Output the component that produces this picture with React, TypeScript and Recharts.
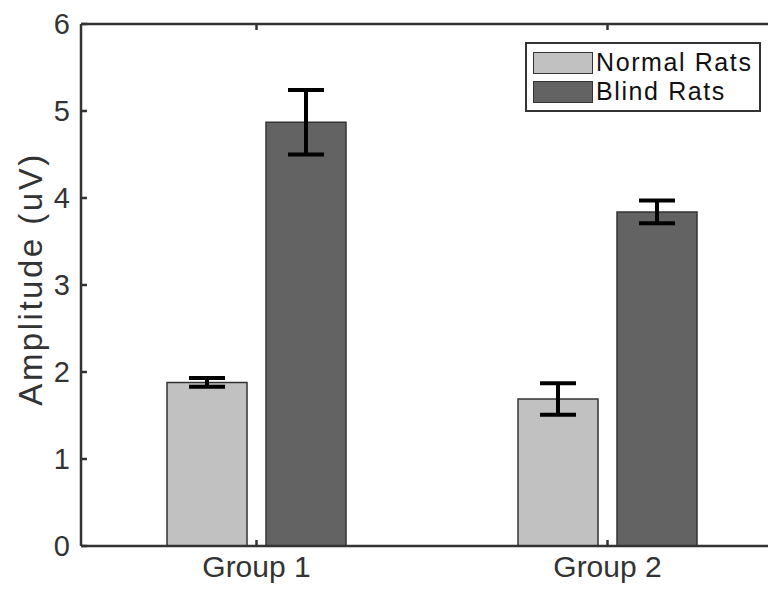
import { BarChart, Bar, XAxis, YAxis, ErrorBar, Legend } from 'recharts';

// categories and values
const groups = ['Group 1', 'Group 2'];
const normalRats = [1.88, 1.69];
const normalErr = [0.05, 0.18];
const blindRats = [4.87, 3.84];
const blindErr = [0.37, 0.13];
const yTicks = [0, 1, 2, 3, 4, 5, 6];
const legendOrder = ['Normal Rats', 'Blind Rats'];

const data = groups.map((g, i) => ({
  group: g,
  normal: normalRats[i],
  normalErr: normalErr[i],
  blind: blindRats[i],
  blindErr: blindErr[i],
}));

const FONT = '"Liberation Sans", Arial, Helvetica, sans-serif';
const AXIS = '#333333';

function LegendBox({ payload }: any) {
  const items = [...(payload || [])].sort(
    (a: any, b: any) => legendOrder.indexOf(a.value) - legendOrder.indexOf(b.value)
  );
  return (
    <div
      style={{
        border: `2.5px solid ${AXIS}`,
        background: '#fff',
        padding: '4px 6px 4px 6px',
        fontFamily: FONT,
        fontSize: 25,
        letterSpacing: 1.6,
        color: '#111',
        lineHeight: '29px',
      }}
    >
      {items.map((p: any) => (
        <div key={p.value} style={{ display: 'flex', alignItems: 'center' }}>
          <span
            style={{
              display: 'inline-block',
              width: 58,
              height: 20,
              background: p.color,
              border: `1.5px solid ${AXIS}`,
              marginRight: 3,
            }}
          />
          <span>{p.value}</span>
        </div>
      ))}
    </div>
  );
}

export default function App() {
  return (
    <div style={{ position: 'absolute', left: 0, top: 0, width: 768, height: 591, overflow: 'hidden', background: '#fff' }}>
      <BarChart
        width={800}
        height={591}
        data={data}
        margin={{ top: 20, right: 17, left: 0, bottom: 0 }}
        barSize={80}
        barGap={19}
      >
        <XAxis
          dataKey="group"
          xAxisId="bottom"
          height={45}
          axisLine={{ stroke: AXIS, strokeWidth: 2.5 }}
          tickLine={{ stroke: AXIS, strokeWidth: 2.5 }}
          tickSize={-6}
          tickMargin={16}
          tick={{ fill: '#333', fontSize: 30, fontFamily: FONT }}
        />
        <XAxis
          dataKey="group"
          xAxisId="top"
          orientation="top"
          height={4}
          axisLine={{ stroke: AXIS, strokeWidth: 2.5 }}
          tickLine={{ stroke: AXIS, strokeWidth: 2.5 }}
          tickSize={-6}
          tickFormatter={() => ''}
        />
        <YAxis
          width={81}
          domain={[0, 6]}
          ticks={yTicks}
          interval={0}
          axisLine={{ stroke: AXIS, strokeWidth: 2.5 }}
          tickLine={{ stroke: AXIS, strokeWidth: 2.5 }}
          tickSize={-6}
          tickMargin={17}
          tick={{ fill: '#333', fontSize: 29, fontFamily: FONT }}
          label={{
            value: 'Amplitude (uV)',
            angle: -90,
            position: 'center',
            dx: -10,
            dy: -6,
            style: { fill: '#333', fontSize: 33, letterSpacing: 2.5, fontFamily: FONT, textAnchor: 'middle' },
          }}
        />
        <Legend
          layout="vertical"
          verticalAlign="middle"
          align="center"
          content={<LegendBox />}
          wrapperStyle={{ position: 'absolute', top: 42, left: 525, width: 'auto', height: 'auto' }}
        />
        <Bar xAxisId="bottom" dataKey="normal" name="Normal Rats" fill="#c1c1c1" stroke={AXIS} strokeWidth={1.5} isAnimationActive={false}>
          <ErrorBar dataKey="normalErr" width={18} stroke="#000" strokeWidth={4} direction="y" />
        </Bar>
        <Bar xAxisId="bottom" dataKey="blind" name="Blind Rats" fill="#636363" stroke={AXIS} strokeWidth={1.5} isAnimationActive={false}>
          <ErrorBar dataKey="blindErr" width={18} stroke="#000" strokeWidth={4} direction="y" />
        </Bar>
      </BarChart>
    </div>
  );
}
